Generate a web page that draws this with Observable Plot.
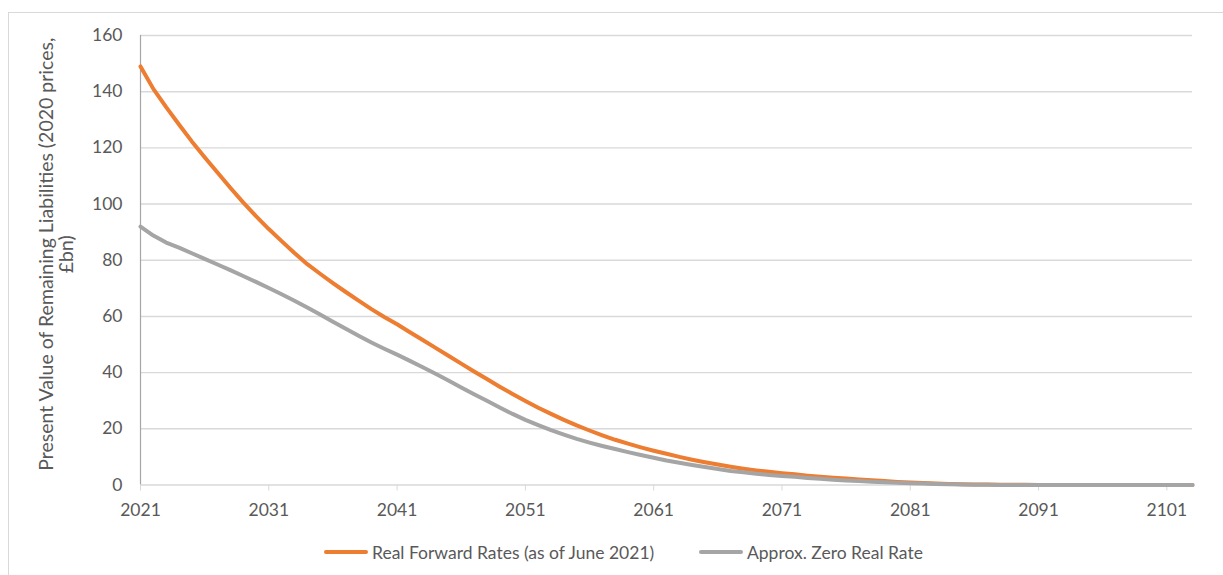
<!DOCTYPE html>
<html>
<head>
<meta charset="utf-8">
<script src="https://cdn.jsdelivr.net/npm/d3@7"></script>
<script src="https://cdn.jsdelivr.net/npm/@observablehq/plot@0.6"></script>
<style>
  html, body { margin: 0; padding: 0; background: #fff; }
  body { width: 1223px; height: 575px; position: relative; overflow: hidden; font-family: Lato, sans-serif; }
  #frame { position: absolute; left: 8px; top: 12px; width: 1400px; height: 800px; border: 1px solid #d9d9d9; box-sizing: border-box; }
  #chart { position: absolute; left: 0; top: 0; }
  #legend { position: absolute; left: 0; top: 540px; width: 1223px; height: 24px; color: #595959; font-size: 17.5px; }
  .item { position: absolute; top: 0; display: flex; align-items: center; height: 24px; white-space: nowrap; }
  .swatch { width: 44px; height: 4px; border-radius: 2px; margin-right: 4px; }
</style>
</head>
<body>
<div id="frame"></div>
<div id="chart"></div>
<div id="legend"></div>
<script>
// Years covered by the projection
const years = d3.range(2021, 2104);

// Present value of remaining liabilities, £bn (2020 prices)
const forwardRates = [
  149, 141, 134.5, 128.3, 122.3, 116.7, 111.2, 105.8, 100.6, 95.7,
  91.1, 86.8, 82.6, 78.6, 75.2, 71.9, 68.7, 65.6, 62.6, 59.8,
  57.2, 54.4, 51.6, 48.8, 46, 43.2, 40.4, 37.7, 35, 32.4,
  29.9, 27.5, 25.3, 23.2, 21.2, 19.4, 17.7, 16.1, 14.7, 13.4,
  12.2, 11.1, 10, 9, 8.1, 7.3, 6.5, 5.8, 5.2, 4.7,
  4.2, 3.8, 3.3, 2.9, 2.6, 2.3, 2, 1.7, 1.4, 1.1,
  0.9, 0.7, 0.55, 0.4, 0.3, 0.2, 0.15, 0.1, 0.05, 0.05,
  0, 0, 0, 0, 0, 0, 0, 0, 0, 0,
  0, 0, 0
];
const zeroRealRate = [
  92, 88.8, 86.3, 84.5, 82.5, 80.5, 78.5, 76.5, 74.4, 72.3,
  70.1, 67.9, 65.6, 63.2, 60.7, 58.1, 55.6, 53.1, 50.7, 48.5,
  46.4, 44.2, 41.9, 39.6, 37.2, 34.7, 32.3, 30, 27.6, 25.3,
  23.2, 21.3, 19.5, 17.9, 16.4, 15.1, 13.9, 12.8, 11.7, 10.7,
  9.7, 8.7, 7.9, 7.1, 6.4, 5.7, 5, 4.5, 4, 3.6,
  3.2, 2.9, 2.5, 2.2, 1.9, 1.6, 1.4, 1.2, 1, 0.8,
  0.65, 0.5, 0.4, 0.3, 0.2, 0.1, 0.05, 0, 0, 0,
  0, 0, 0, 0, 0, 0, 0, 0, 0, 0,
  0, 0, 0
];

const seriesNames = ["Real Forward Rates (as of June 2021)", "Approx. Zero Real Rate"];
const seriesColors = ["#ED7D31", "#A5A5A5"];
const xTicks = d3.range(2021, 2102, 10);
const yTicks = d3.range(0, 161, 20);
const yTitle = "Present Value of Remaining Liabilities (2020 prices,\n£bn)";

const rows = [];
[forwardRates, zeroRealRate].forEach((vals, s) => {
  years.forEach((yr, i) => rows.push({ series: seriesNames[s], year: yr, value: vals[i] }));
});

const chart = Plot.plot({
  width: 1223,
  height: 530,
  marginLeft: 140,
  marginRight: 31,
  marginTop: 35,
  marginBottom: 45.5,
  style: { fontFamily: "Lato, sans-serif", fontSize: "17.5px", color: "#595959", background: "transparent" },
  x: { domain: [2021, 2103] },
  y: { domain: [0, 160] },
  marks: [
    Plot.ruleY(yTicks.filter(d => d > 0), { stroke: "#d9d9d9", strokeWidth: 1.4 }),
    Plot.ruleY([0], { stroke: "#d9d9d9", strokeWidth: 1.5 }),
    Plot.ruleX([2021], { stroke: "#a6a6a6", strokeWidth: 1.2 }),
    Plot.axisX({ ticks: xTicks, tickFormat: d => String(d), tickSize: 6, tickPadding: 13, stroke: "#d9d9d9", fontSize: 17.5, label: null }),
    Plot.axisY({ ticks: yTicks, tickSize: 0, tickPadding: 18, fontSize: 17.5, label: null }),
    Plot.text([yTitle], {
      frameAnchor: "left", dx: -84, dy: -6, rotate: -90,
      textAnchor: "middle", lineAnchor: "middle",
      lineHeight: 1.03, fontSize: 19.5, fill: "#595959"
    }),
    Plot.line(rows, {
      x: "year", y: "value", z: "series",
      stroke: d => seriesColors[seriesNames.indexOf(d.series)],
      strokeWidth: 4, strokeLinejoin: "round"
    })
  ]
});
document.getElementById("chart").appendChild(chart);

// Legend below the plot
const legendLeft = [324, 699];
const legend = document.getElementById("legend");
seriesNames.forEach((name, i) => {
  const item = document.createElement("div");
  item.className = "item";
  item.style.left = legendLeft[i] + "px";
  const sw = document.createElement("span");
  sw.className = "swatch";
  sw.style.background = seriesColors[i];
  const label = document.createElement("span");
  label.textContent = name;
  item.appendChild(sw);
  item.appendChild(label);
  legend.appendChild(item);
});
</script>
</body>
</html>
